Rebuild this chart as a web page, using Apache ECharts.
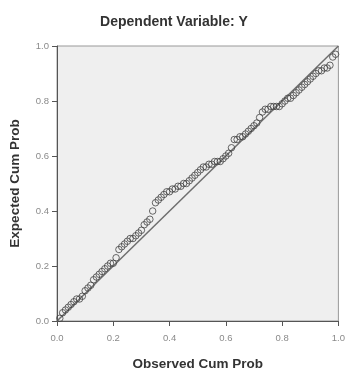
<!DOCTYPE html>
<html><head><meta charset="utf-8">
<script src="https://cdn.jsdelivr.net/npm/echarts@6/dist/echarts.min.js"></script>
<style>html,body{margin:0;padding:0;background:#fff}#c{width:348px;height:376px}</style>
</head><body><div id="c"></div>
<script>
const titleText = "Dependent Variable: Y";
const xAxisName = "Observed Cum Prob";
const yAxisName = "Expected Cum Prob";
const tickLabels = ["0.0","0.2","0.4","0.6","0.8","1.0"];
const observed = [0.01,0.02,0.03,0.04,0.05,0.06,0.07,0.08,0.09,0.10,0.11,0.12,0.13,0.14,0.15,0.16,0.17,0.18,0.19,0.20,
0.21,0.22,0.23,0.24,0.25,0.26,0.27,0.28,0.29,0.30,0.31,0.32,0.33,0.34,0.35,0.36,0.37,0.38,0.39,0.40,
0.41,0.42,0.43,0.44,0.45,0.46,0.47,0.48,0.49,0.50,0.51,0.52,0.53,0.54,0.55,0.56,0.57,0.58,0.59,0.60,
0.61,0.62,0.63,0.64,0.65,0.66,0.67,0.68,0.69,0.70,0.71,0.72,0.73,0.74,0.75,0.76,0.77,0.78,0.79,0.80,
0.81,0.82,0.83,0.84,0.85,0.86,0.87,0.88,0.89,0.90,0.91,0.92,0.93,0.94,0.95,0.96,0.97,0.98,0.99];
const expected = [0.01,0.03,0.04,0.05,0.06,0.07,0.08,0.08,0.09,0.11,0.12,0.13,0.15,0.16,0.17,0.18,0.19,0.20,0.21,0.21,
0.23,0.26,0.27,0.28,0.29,0.30,0.30,0.31,0.32,0.33,0.35,0.36,0.37,0.40,0.43,0.44,0.45,0.46,0.47,0.47,
0.48,0.48,0.49,0.49,0.50,0.50,0.51,0.52,0.53,0.54,0.55,0.56,0.56,0.57,0.57,0.58,0.58,0.58,0.59,0.60,
0.61,0.63,0.66,0.66,0.67,0.67,0.68,0.69,0.70,0.71,0.72,0.74,0.76,0.77,0.77,0.78,0.78,0.78,0.78,0.79,
0.80,0.81,0.81,0.82,0.83,0.84,0.85,0.86,0.87,0.88,0.89,0.90,0.91,0.91,0.92,0.92,0.93,0.96,0.97];
const refLine = [[0,0],[1,1]];

const pts = observed.map((x,i)=>[x, expected[i]]);
const chart = echarts.init(document.getElementById('c'), null, {renderer:'canvas'});
const font = '"Liberation Sans", Arial, sans-serif';
const axisCommon = {
  min:0, max:1, interval:0.2,
  axisLine:{show:true, onZero:false, lineStyle:{color:'#555', width:1}},
  axisTick:{show:true, inside:false, length:5, lineStyle:{color:'#555'}},
  splitLine:{show:false},
  axisLabel:{color:'#8a8a8a', fontSize:9.5, fontFamily:font, formatter:(v)=>tickLabels[Math.round(v*5)]},
  nameLocation:'middle',
  nameTextStyle:{color:'#333', fontSize:13.5, fontWeight:'bold', fontFamily:font}
};
chart.setOption({
  animation:false,
  backgroundColor:'#ffffff',
  title:{text:titleText, left:'center', top:10, textStyle:{color:'#333', fontSize:14, fontWeight:'bold', fontFamily:font}},
  grid:{left:57, right:8, top:46, bottom:47, show:true, backgroundColor:'#efefef', borderColor:'#999', borderWidth:1},
  xAxis:Object.assign({}, axisCommon, {type:'value', name:xAxisName, nameGap:36, axisLabel:Object.assign({}, axisCommon.axisLabel, {margin:12})}),
  yAxis:Object.assign({}, axisCommon, {type:'value', name:yAxisName, nameGap:35, axisLabel:Object.assign({}, axisCommon.axisLabel, {margin:8})}),
  series:[
    {type:'line', data:refLine, symbol:'none', lineStyle:{color:'#6e6e6e', width:1.5}, z:1},
    {type:'scatter', data:pts, symbol:'circle', symbolSize:6.5,
     itemStyle:{color:'rgba(0,0,0,0)', borderColor:'#444', borderWidth:1}, z:2}
  ]
});
</script></body></html>
